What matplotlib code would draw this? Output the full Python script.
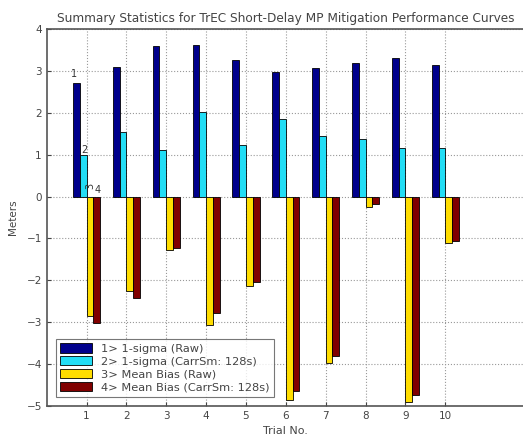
import matplotlib
matplotlib.use("Agg")
import matplotlib.pyplot as plt
import numpy as np

# data
trials = [1, 2, 3, 4, 5, 6, 7, 8, 9, 10]
sigma_raw = [2.71, 3.09, 3.59, 3.62, 3.25, 2.98, 3.07, 3.18, 3.30, 3.14]
sigma_carr = [1.00, 1.53, 1.12, 2.01, 1.24, 1.84, 1.45, 1.37, 1.16, 1.17]
bias_raw = [-2.86, -2.26, -1.28, -3.07, -2.14, -4.85, -3.98, -0.25, -4.91, -1.12]
bias_carr = [-3.02, -2.42, -1.22, -2.78, -2.04, -4.65, -3.80, -0.17, -4.74, -1.06]
labels = ["1> 1-sigma (Raw)", "2> 1-sigma (CarrSm: 128s)",
          "3> Mean Bias (Raw)", "4> Mean Bias (CarrSm: 128s)"]
colors = ["#00008c", "#22ddf5", "#ffdd00", "#800000"]

W, H = 523, 443
fig = plt.figure(figsize=(W / 100, H / 100), dpi=100)
ax = fig.add_axes([46.7 / W, 1 - 406 / H, (525 - 46.7) / W, (406 - 29) / H])

x = np.array(trials)
width = 0.17
offsets = [-0.255, -0.085, 0.085, 0.255]
series = [sigma_raw, sigma_carr, bias_raw, bias_carr]
for vals, off, c, lab in zip(series, offsets, colors, labels):
    ax.bar(x + off, vals, width, color=c, edgecolor="black", linewidth=0.6,
           label=lab, zorder=3)

# small series numbers next to the first group
ax.text(0.62, sigma_raw[0] + 0.15, "1", fontsize=7, color="#333333")
ax.text(0.86, sigma_carr[0] + 0.05, "2", fontsize=7, color="#333333")
ax.text(0.98, 0.22, "3", fontsize=7, color="#333333", rotation=90)
ax.text(1.2, 0.08, "4", fontsize=7, color="#333333")

ax.set_xlim(0, 12)
ax.set_ylim(-5, 4)
ax.set_xticks(trials)
ax.set_yticks(range(-5, 5))
ax.tick_params(labelsize=7.5, colors="#444444", length=3, direction="in")
ax.grid(True, linestyle=":", color="#999999", linewidth=0.8, zorder=0)
for s in ax.spines.values():
    s.set_color("#555555")
    s.set_linewidth(1.2)

ax.set_title("Summary Statistics for TrEC Short-Delay MP Mitigation Performance Curves",
             fontsize=8.7, color="#444444", pad=5)
ax.set_xlabel("Trial No.", fontsize=8, color="#444444", labelpad=4)
ax.set_ylabel("Meters", fontsize=7.5, color="#444444", labelpad=6)

leg = ax.legend(loc="lower left", fontsize=8.2, frameon=True, fancybox=False,
                borderpad=0.35, handlelength=2.8, handleheight=0.9,
                labelspacing=0.2, bbox_to_anchor=(0.008, 0.01))
leg.get_frame().set_edgecolor("#555555")
leg.get_frame().set_linewidth(0.8)
for t in leg.get_texts():
    t.set_color("#444444")

fig.savefig("out.png", dpi=100)
